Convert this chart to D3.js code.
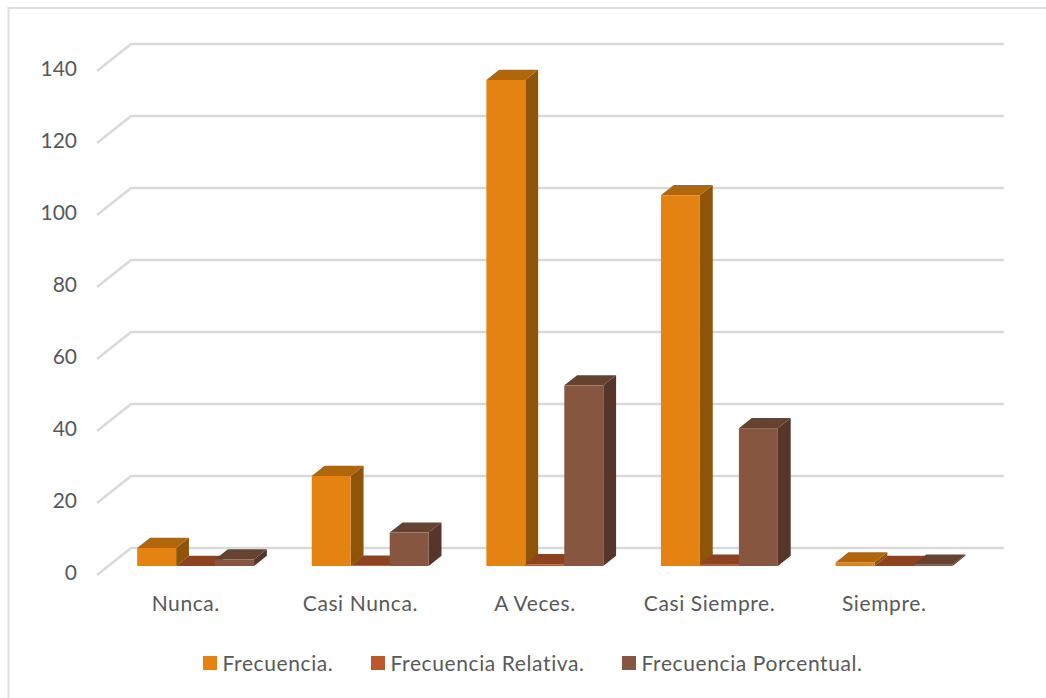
<!DOCTYPE html>
<html>
<head>
<meta charset="utf-8">
<script src="https://cdn.jsdelivr.net/npm/d3@7/dist/d3.min.js"></script>
<style>
html, body { margin: 0; padding: 0; background: #fff; }
svg { display: block; }
text { font-family: Lato, "Open Sans", sans-serif; fill: #595959; }
</style>
</head>
<body>
<svg id="chart" width="1046" height="698"></svg>
<script>
const categories = ["Nunca.", "Casi Nunca.", "A Veces.", "Casi Siempre.", "Siempre."];
const seriesNames = ["Frecuencia.", "Frecuencia Relativa.", "Frecuencia Porcentual."];
const frecuencia = [5, 25, 135, 103, 1];
const relativa = [0.02, 0.09, 0.5, 0.38, 0.004];
const porcentual = [1.86, 9.29, 50.19, 38.29, 0.37];
const tickValues = [0, 20, 40, 60, 80, 100, 120, 140];
const faceColors = [
  { front: "#E48312", top: "#B0660A", side: "#8E5408" },
  { front: "#BD582C", top: "#8E4220", side: "#723519" },
  { front: "#865640", top: "#664230", side: "#56352A" }
];

const svg = d3.select("#chart");

// Oblique projection: the floor runs from the front plane to the back wall.
const floor = { dx: 34, dy: 27 };
const barFrontDepth = 0.333, barBackDepth = 0.71;
const y = d3.scaleLinear().domain([0, 140]).range([575, 71]);
const xCat = d3.scaleBand().domain(categories).range([97, 970]);
const xSeries = d3.scaleBand().domain(seriesNames)
  .range([0, xCat.bandwidth()]).paddingOuter(0.74).paddingInner(0);

const project = (px, v, depth) => [px + floor.dx * depth, y(v) - floor.dy * depth];
const pts = list => list.map(p => p.join(",")).join(" ");

// Chart frame: only the top and left edges are drawn
svg.append("polyline")
  .attr("points", "8.5,698 8.5,8 1046,8")
  .attr("fill", "none").attr("stroke", "#DEDEDE").attr("stroke-width", 2);

// Gridlines on the back wall with their returns along the side wall
const grid = svg.append("g").attr("fill", "none").attr("stroke", "#D9D9D9").attr("stroke-width", 2.4);
tickValues.forEach(t => {
  const a = project(xCat.range()[0], t, 0);
  const b = project(xCat.range()[0], t, 1);
  const c = project(xCat.range()[1], t, 1);
  grid.append("polyline").attr("points", pts([a, b, c]));
});

// Value axis labels
const axis = d3.axisLeft(y).tickValues(tickValues).tickSize(0).tickPadding(0);
const axisG = svg.append("g").attr("transform", "translate(77,-2)").call(axis);
axisG.select(".domain").remove();
axisG.selectAll("text").style("font-size", "21px");

// Bars are painted series by series, left to right, so nearer faces overlap correctly
const values = [frecuencia, relativa, porcentual];
const bars = svg.append("g");
categories.forEach((cat, ci) => {
  seriesNames.forEach((name, si) => {
    const v = values[si][ci];
    const x0 = xCat(cat) + xSeries(name);
    const x1 = x0 + xSeries.bandwidth();
    const d0 = barFrontDepth, d1 = barBackDepth;
    const g = bars.append("g");
    g.append("polygon").attr("fill", faceColors[si].side).attr("points", pts([
      project(x1, 0, d0), project(x1, 0, d1), project(x1, v, d1), project(x1, v, d0)
    ]));
    g.append("polygon").attr("fill", faceColors[si].top).attr("points", pts([
      project(x0, v, d0), project(x1, v, d0), project(x1, v, d1), project(x0, v, d1)
    ]));
    const tl = project(x0, v, d0), br = project(x1, 0, d0);
    g.append("rect").attr("fill", faceColors[si].front)
      .attr("x", tl[0]).attr("y", tl[1])
      .attr("width", br[0] - tl[0]).attr("height", Math.max(0, br[1] - tl[1]));
  });
});

// Category labels
svg.append("g").selectAll("text").data(categories).join("text")
  .attr("x", d => xCat(d) + xCat.bandwidth() / 2 + 1.5)
  .attr("y", 611)
  .attr("text-anchor", "middle")
  .style("font-size", "21px")
  .style("letter-spacing", "0.6px")
  .text(d => d);

// Legend
const legendX = [203, 371, 622];
const legend = svg.append("g").selectAll("g").data(seriesNames).join("g")
  .attr("transform", (d, i) => `translate(${legendX[i]},656)`);
legend.append("rect").attr("width", 14).attr("height", 14)
  .attr("fill", (d, i) => faceColors[i].front);
legend.append("text").attr("x", 19.5).attr("y", 14.5)
  .style("font-size", "21px")
  .style("letter-spacing", "0.6px")
  .text(d => d);
</script>
</body>
</html>
